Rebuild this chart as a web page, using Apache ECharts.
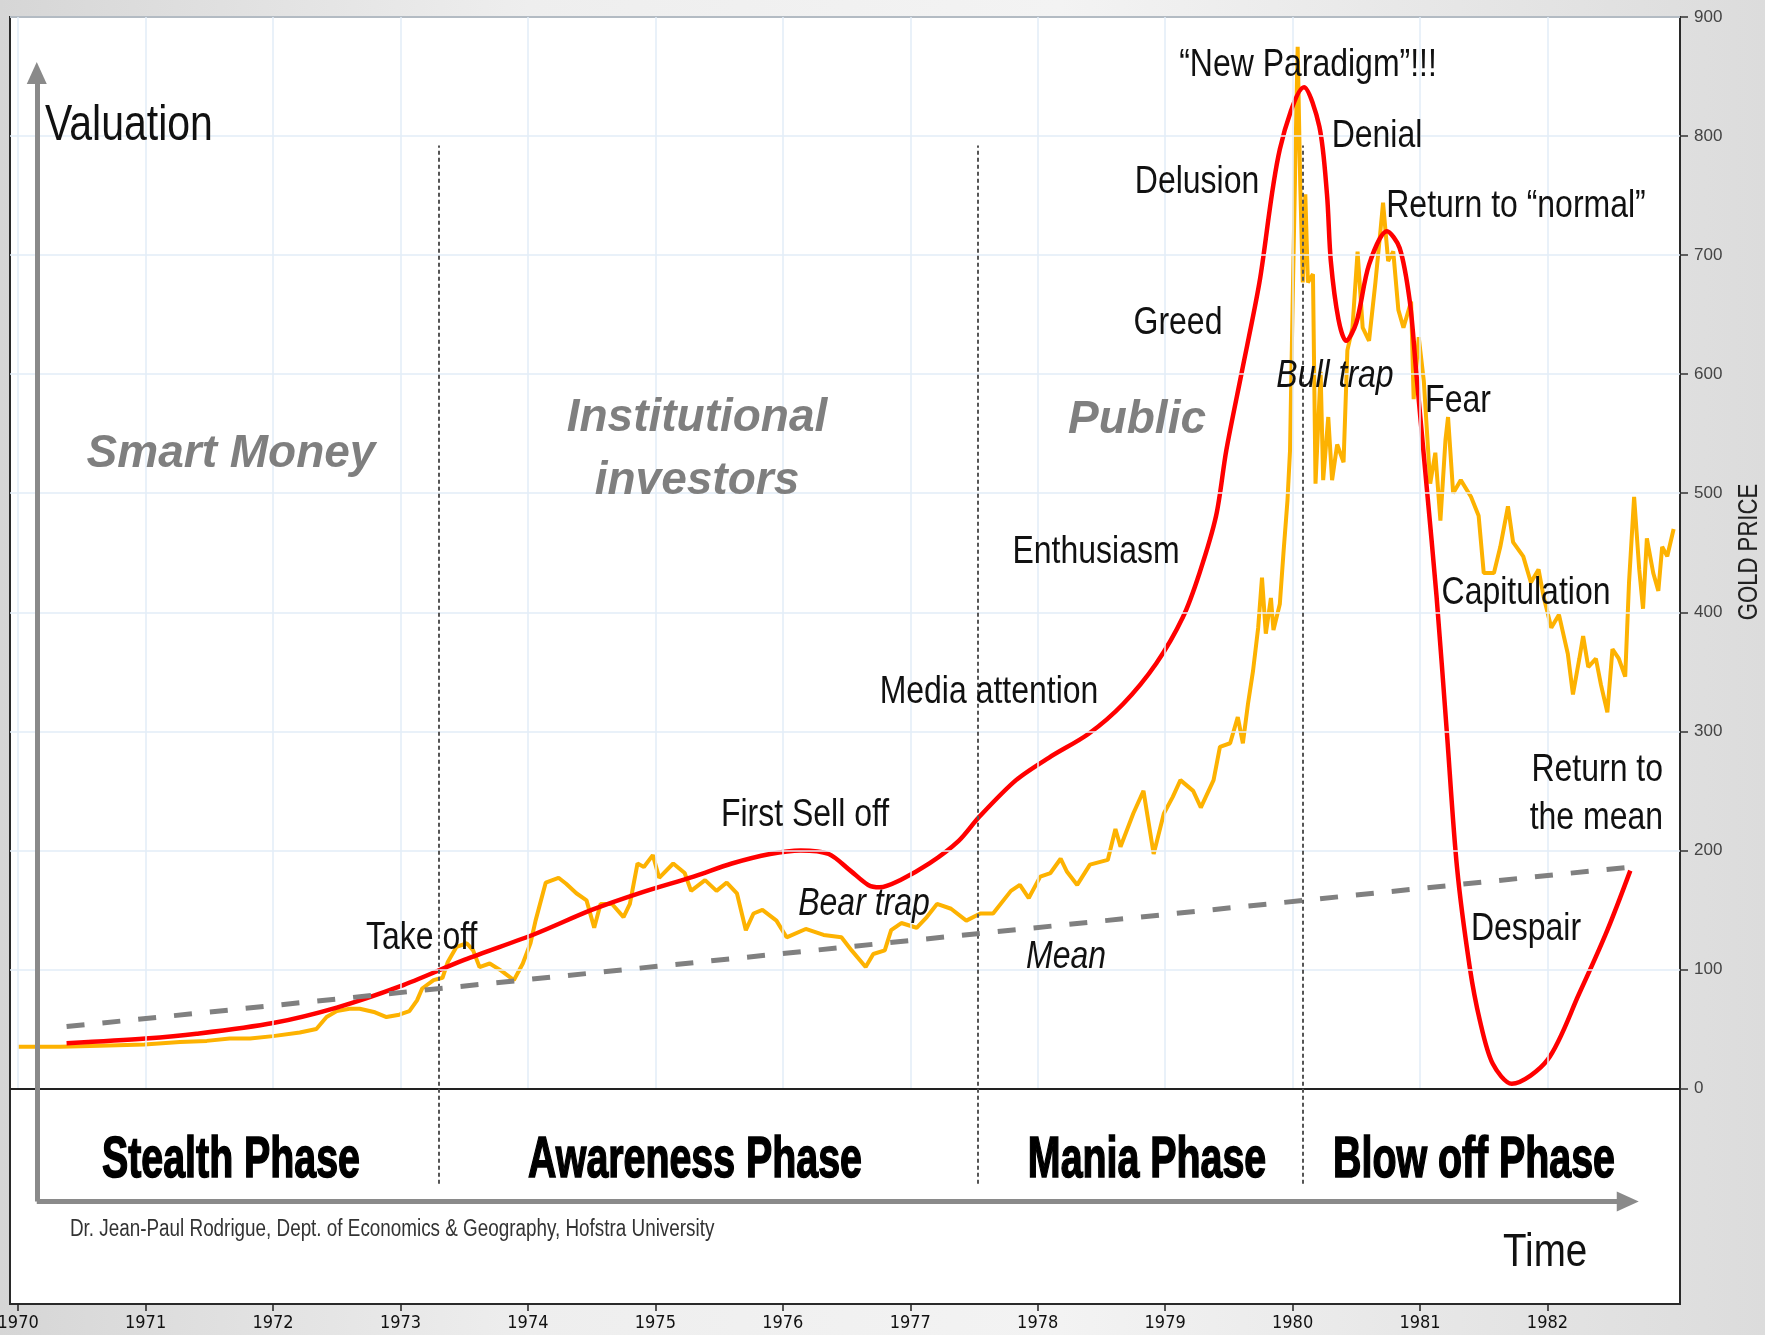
<!DOCTYPE html>
<html>
<head>
<meta charset="utf-8">
<title>Stages in a bubble - gold 1970-1982</title>
<script src="https://cdn.jsdelivr.net/npm/echarts@6/dist/echarts.min.js"></script>
<style>
html, body { margin: 0; padding: 0; }
#main { width: 1765px; height: 1335px;
  background: linear-gradient(to right, #d6d6d6 0%, #eeeeee 30%, #f3f3f3 60%, #dcdcdc 100%); }
</style>
</head>
<body>
<div id="main"></div>
<script>
// axis ticks
var yearTicks = [1970, 1971, 1972, 1973, 1974, 1975, 1976, 1977, 1978, 1979, 1980, 1981, 1982];
var priceTicks = [0, 100, 200, 300, 400, 500, 600, 700, 800, 900];

// gold price
var goldYears = [1970.0, 1970.33, 1970.64, 1970.99, 1971.27, 1971.48, 1971.66, 1971.82, 1972.0, 1972.21,
  1972.34, 1972.42, 1972.5, 1972.6, 1972.68, 1972.8, 1972.89, 1972.99, 1973.07, 1973.13,
  1973.17, 1973.26, 1973.33, 1973.37, 1973.44, 1973.52, 1973.57, 1973.62, 1973.7, 1973.79,
  1973.89, 1973.96, 1974.02, 1974.06, 1974.14, 1974.24, 1974.3, 1974.38, 1974.46, 1974.52,
  1974.57, 1974.66, 1974.75, 1974.8, 1974.86, 1974.91, 1974.98, 1975.03, 1975.14, 1975.23,
  1975.28, 1975.39, 1975.48, 1975.56, 1975.64, 1975.71, 1975.77, 1975.84, 1975.95, 1976.03,
  1976.18, 1976.32, 1976.46, 1976.54, 1976.65, 1976.71, 1976.8, 1976.85, 1976.93, 1977.05,
  1977.13, 1977.21, 1977.32, 1977.44, 1977.55, 1977.65, 1977.79, 1977.86, 1977.93, 1978.02,
  1978.1, 1978.18, 1978.23, 1978.31, 1978.41, 1978.55, 1978.61, 1978.65, 1978.75, 1978.83,
  1978.91, 1978.99, 1979.06, 1979.12, 1979.22, 1979.28, 1979.38, 1979.43, 1979.51, 1979.57,
  1979.61, 1979.65, 1979.69, 1979.73, 1979.76, 1979.79, 1979.83, 1979.85, 1979.9, 1979.93,
  1979.96, 1979.98, 1980.0, 1980.02, 1980.04, 1980.06, 1980.08, 1980.1, 1980.12, 1980.16,
  1980.18, 1980.22, 1980.24, 1980.28, 1980.31, 1980.35, 1980.4, 1980.43, 1980.47, 1980.51,
  1980.55, 1980.6, 1980.65, 1980.69, 1980.71, 1980.75, 1980.79, 1980.83, 1980.87, 1980.93,
  1980.95, 1980.99, 1981.03, 1981.08, 1981.12, 1981.16, 1981.2, 1981.22, 1981.26, 1981.32,
  1981.4, 1981.46, 1981.5, 1981.58, 1981.63, 1981.69, 1981.73, 1981.81, 1981.87, 1981.93,
  1981.97, 1982.03, 1982.09, 1982.16, 1982.2, 1982.25, 1982.28, 1982.32, 1982.38, 1982.42,
  1982.47, 1982.51, 1982.56, 1982.61, 1982.64, 1982.68, 1982.72, 1982.75, 1982.78, 1982.83,
  1982.87, 1982.9, 1982.94, 1982.99];
var goldPrices = [35, 35, 36, 37, 39, 40, 42, 42, 44, 47,
  50, 60, 65, 67, 67, 64, 60, 62, 65, 74,
  84, 91, 93, 106, 119, 122, 116, 102, 105, 99,
  91, 105, 122, 141, 173, 177, 172, 164, 158, 135,
  155, 155, 144, 155, 189, 186, 196, 177, 189, 181,
  166, 175, 166, 173, 164, 133, 147, 150, 141, 127,
  134, 129, 127, 116, 102, 113, 116, 133, 139, 135,
  144, 155, 151, 141, 147, 147, 166, 171, 160, 178,
  181, 193, 182, 171, 188, 192, 218, 203, 231, 250,
  197, 231, 245, 259, 250, 236, 259, 287, 290, 312,
  290, 323, 351, 387, 429, 382, 412, 385, 407, 452,
  494, 536, 657, 770, 875, 760, 677, 751, 677, 684,
  508, 602, 511, 564, 511, 541, 526, 620, 639, 703,
  639, 628, 677, 721, 744, 695, 703, 654, 639, 661,
  579, 631, 594, 508, 534, 477, 545, 564, 500, 511,
  497, 481, 433, 433, 455, 489, 459, 447, 425, 436,
  413, 387, 398, 365, 331, 361, 380, 354, 361, 339,
  316, 369, 361, 346, 425, 497, 436, 403, 462, 433,
  418, 455, 447, 470];

// valuation curve (red)
var valYears = [1970.38, 1971.0, 1971.4, 1972.0, 1972.5, 1973.0, 1973.5, 1974.06, 1974.5, 1974.9,
  1975.3, 1975.6, 1975.9, 1976.14, 1976.36, 1976.53, 1976.67, 1976.76, 1976.92, 1977.15,
  1977.38, 1977.54, 1977.83, 1978.09, 1978.4, 1978.67, 1978.93, 1979.14, 1979.27, 1979.4,
  1979.48, 1979.6, 1979.74, 1979.9, 1980.09, 1980.21, 1980.27, 1980.3, 1980.36, 1980.42,
  1980.5, 1980.6, 1980.74, 1980.84, 1980.92, 1980.97, 1981.05, 1981.13, 1981.21, 1981.29,
  1981.39, 1981.47, 1981.57, 1981.72, 1982.0, 1982.25, 1982.47, 1982.65];
var valValues = [38, 42, 46, 55, 68, 86, 108, 130, 150, 165,
  178, 189, 197, 200, 197, 183, 171, 169, 175, 189,
  208, 228, 259, 278, 298, 323, 357, 396, 433, 481,
  536, 601, 677, 789, 841, 808, 751, 695, 646, 628,
  643, 692, 720, 706, 661, 602, 508, 413, 300, 186,
  102, 57, 21, 4, 24, 80, 133, 183];

// mean trend (dashed)
var meanYears = [1970.38, 1982.65];
var meanValues = [52, 186];

// phase separators
var phaseBreaks = [1973.3, 1977.53, 1980.08];

var X_MIN = 1969.936, X_MAX = 1983.04;
var sans = "'Liberation Sans', Arial, sans-serif";
var cond = "'DejaVu Sans Condensed', 'Liberation Sans', sans-serif";
var NARROW = 0.82; // squeeze Liberation Sans to Arial Narrow width

function pairs(xs, ys) {
    var out = [];
    for (var i = 0; i < xs.length; i++) out.push([xs[i], ys[i]]);
    return out;
}

function txt(s, x, y, o) {
    o = o || {};
    var align = o.align || 'center';
    return {
        type: 'text', x: x, y: y, z: 100,
        scaleX: o.sx || NARROW, scaleY: 1, rotation: o.rot || 0,
        style: {
            text: s, fill: o.color || '#111',
            fontSize: o.size || 39, fontFamily: sans,
            fontWeight: o.weight || 'normal', fontStyle: o.italic ? 'italic' : 'normal',
            align: align, textAlign: align,
            verticalAlign: 'middle', textVerticalAlign: 'middle',
            lineHeight: o.lh,
            stroke: o.stroke, lineWidth: o.stroke ? 1.6 : 0
        }
    };
}

// gridlines only in the price region (0..900)
var gridLines = [];
yearTicks.forEach(function (y) {
    gridLines.push([{ coord: [y, 0] }, { coord: [y, 900] }]);
});
priceTicks.slice(1).forEach(function (v) {
    gridLines.push([{ coord: [X_MIN, v] }, { coord: [X_MAX, v] }]);
});

var breakLines = phaseBreaks.map(function (b) {
    return [{ coord: [b, -80], lineStyle: { color: '#555', width: 2, type: [4, 3] } }, { coord: [b, 792] }];
});

var chart = echarts.init(document.getElementById('main'));

var option = {
    animation: false,
    backgroundColor: 'transparent',
    grid: {
        left: 10, right: 85, top: 17, bottom: 31, outerBoundsMode: 'none', containLabel: false,
        show: true, backgroundColor: '#ffffff', borderColor: '#2a2a2a', borderWidth: 2
    },
    xAxis: {
        type: 'value', min: X_MIN, max: X_MAX,
        axisLine: { show: false, onZero: false },
        axisTick: { show: true, customValues: yearTicks, length: 7, lineStyle: { color: '#222', width: 1.5 } },
        axisLabel: {
            customValues: yearTicks, color: '#111', fontSize: 18, fontFamily: cond, margin: 10,
            formatter: function (v) { return String(v); }
        },
        splitLine: { show: false }
    },
    yAxis: {
        type: 'value', position: 'right', min: -181, max: 900,
        axisLine: { show: false, onZero: false },
        axisTick: { show: true, customValues: priceTicks, length: 8, lineStyle: { color: '#333', width: 1.5 } },
        axisLabel: { customValues: priceTicks, color: '#444', fontSize: 17, fontFamily: sans, margin: 14 },
        splitLine: { show: false }
    },
    series: [
        {
            name: 'grid', type: 'line', data: [], z: 1, silent: true,
            markLine: {
                silent: true, symbol: ['none', 'none'], label: { show: false },
                lineStyle: { color: '#e2edf7', width: 1.5, type: 'solid' },
                data: gridLines
            }
        },
        {
            name: 'Gold price', type: 'line', z: 3, showSymbol: false,
            data: pairs(goldYears, goldPrices),
            lineStyle: { color: '#FDB201', width: 4 }
        },
        {
            name: 'Valuation', type: 'line', z: 4, showSymbol: false, smooth: 0.3,
            data: pairs(valYears, valValues),
            lineStyle: { color: '#FF0000', width: 4.5 }
        },
        {
            name: 'Mean', type: 'line', z: 5, showSymbol: false,
            data: pairs(meanYears, meanValues),
            lineStyle: { color: '#808080', width: 5, type: [18, 18] }
        },
        {
            name: 'frame', type: 'line', data: [], z: 6, silent: true,
            markLine: {
                silent: true, symbol: ['none', 'none'], label: { show: false },
                data: [
                    // zero line
                    [{ coord: [X_MIN, 0], lineStyle: { color: '#222', width: 2, type: 'solid' } },
                     { coord: [X_MAX, 0] }]
                ].concat(breakLines)
            }
        },
        {
            name: 'arrows', type: 'line', data: [], z: 7, silent: true,
            markLine: {
                silent: true, symbol: ['none', 'triangle'], symbolSize: [20, 22],
                label: { show: false },
                lineStyle: { color: '#8a8a8a', width: 5, type: 'solid' },
                data: [
                    [{ coord: [1970.146, -95] }, { coord: [1970.146, 853] }],
                    [{ coord: [1970.146, -95] }, { coord: [1982.63, -95] }]
                ]
            }
        }
    ],
    graphic: [
        txt('Valuation', 45, 126, { size: 50, align: 'left' }),
        txt('Time', 1503, 1253, { size: 47, align: 'left' }),
        txt('Smart Money', 231, 454, { size: 46, sx: 1, weight: 'bold', italic: true, color: '#7f7f7f' }),
        txt('Institutional\ninvestors', 697, 450, { size: 46, sx: 1, weight: 'bold', italic: true, color: '#7f7f7f', lh: 63 }),
        txt('Public', 1137, 420, { size: 46, sx: 1, weight: 'bold', italic: true, color: '#7f7f7f' }),

        txt('Take off', 366, 938, { align: 'left' }),
        txt('First Sell off', 805, 815),
        txt('Bear trap', 864, 904, { italic: true }),
        txt('Mean', 1066, 957, { italic: true }),
        txt('Media attention', 989, 692),
        txt('Enthusiasm', 1096, 552),
        txt('Greed', 1178, 323),
        txt('Delusion', 1197, 182),
        txt('\u201cNew Paradigm\u201d!!!', 1308, 65),
        txt('Denial', 1377, 136),
        txt('Return to \u201cnormal\u201d', 1516, 206),
        txt('Bull trap', 1335, 376, { italic: true }),
        txt('Fear', 1458, 401),
        txt('Capitulation', 1526, 593),
        txt('Return to', 1663, 770, { align: 'right' }),
        txt('the mean', 1663, 818, { align: 'right' }),
        txt('Despair', 1526, 929),

        txt('Stealth Phase', 231, 1161, { size: 57, weight: 'bold', sx: 0.69, color: '#000', stroke: '#000' }),
        txt('Awareness Phase', 695, 1161, { size: 57, weight: 'bold', sx: 0.69, color: '#000', stroke: '#000' }),
        txt('Mania Phase', 1147, 1161, { size: 57, weight: 'bold', sx: 0.69, color: '#000', stroke: '#000' }),
        txt('Blow off Phase', 1474, 1161, { size: 57, weight: 'bold', sx: 0.69, color: '#000', stroke: '#000' }),

        txt('Dr. Jean-Paul Rodrigue, Dept. of Economics & Geography, Hofstra University', 70, 1230,
            { size: 23, align: 'left', color: '#333' }),
        txt('GOLD PRICE', 1750, 552, { size: 27, rot: Math.PI / 2, color: '#222' })
    ]
};

chart.setOption(option);
</script>
</body>
</html>
